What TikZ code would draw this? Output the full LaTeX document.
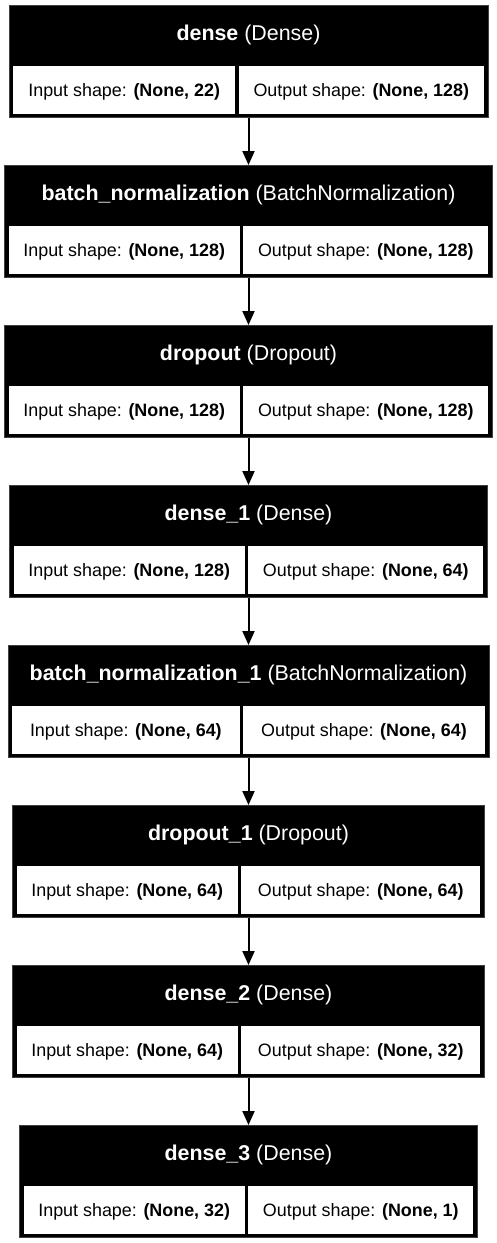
\documentclass[tikz,border=0pt]{standalone}
\usepackage{fontspec}
\setmainfont{Liberation Sans}
\usetikzlibrary{arrows.meta}
\tikzset{
  blk/.style={rectangle, fill=black, draw=black!75, line width=0.8pt, inner sep=0pt, minimum height=112pt, anchor=north},
  cell/.style={rectangle, fill=white, inner sep=0pt, minimum height=47.5pt, font=\fontsize{17.9}{20}\selectfont, text=black},
  head/.style={inner sep=0pt, anchor=base, font=\fontsize{21.4}{24}\selectfont, text=white},
  conn/.style={line width=2pt, -{Triangle[length=14pt,width=12pt]}}
}
% #1 id, #2 top, #3 left, #4 right, #5 divider, #6 name, #7 type, #8 in, #9 out
\newcommand{\mylayer}[9]{%
  \pgfmathsetmacro{\lw}{#4-#3}%
  \pgfmathsetmacro{\cw}{(#4+#3)/2}%
  \pgfmathsetmacro{\wl}{#5-#3-4}%
  \pgfmathsetmacro{\wr}{#4-#5-8}%
  \node[blk, minimum width=\lw pt] (b#1) at (\cw,#2) {};
  \node[head] (h#1) at (\cw,#2+35) {\textbf{#6} (#7)};
  \node[cell, anchor=north west, minimum width=\wl pt] (i#1) at (#3+4,#2+61) {};
  \node[cell, anchor=north east, minimum width=\wr pt] (o#1) at (#4-4,#2+61) {};
  \node[cell, fill=none, anchor=base, minimum height=0pt] (ti#1) at ([yshift=-6.6pt]i#1.center) {Input shape: \textbf{(None, #8)}};
  \node[cell, fill=none, anchor=base, minimum height=0pt] (to#1) at ([yshift=-6.6pt]o#1.center) {Output shape: \textbf{(None, #9)}};
}
\begin{document}
\begin{tikzpicture}[x=1pt,y=-1pt]
\useasboundingbox[fill=white] (0,0) rectangle (497,1243);
\mylayer{1}{5}{9}{488}{235}{dense}{Dense}{22}{128}
\mylayer{2}{165}{4.5}{492.5}{239.5}{batch\_normalization}{BatchNormalization}{128}{128}
\mylayer{3}{325}{4.5}{492.5}{239.5}{dropout}{Dropout}{128}{128}
\mylayer{4}{485}{9.5}{487.5}{244.5}{dense\_1}{Dense}{128}{64}
\mylayer{5}{645}{8}{489}{239.3}{batch\_normalization\_1}{BatchNormalization}{64}{64}
\mylayer{6}{805}{12.5}{484.5}{237.5}{dropout\_1}{Dropout}{64}{64}
\mylayer{7}{965}{12.5}{484.5}{237.5}{dense\_2}{Dense}{64}{32}
\mylayer{8}{1125}{19.5}{477.5}{244.5}{dense\_3}{Dense}{32}{1}
\draw[conn] (b1.south) -- (b2.north);
\draw[conn] (b2.south) -- (b3.north);
\draw[conn] (b3.south) -- (b4.north);
\draw[conn] (b4.south) -- (b5.north);
\draw[conn] (b5.south) -- (b6.north);
\draw[conn] (b6.south) -- (b7.north);
\draw[conn] (b7.south) -- (b8.north);
\end{tikzpicture}
\end{document}
